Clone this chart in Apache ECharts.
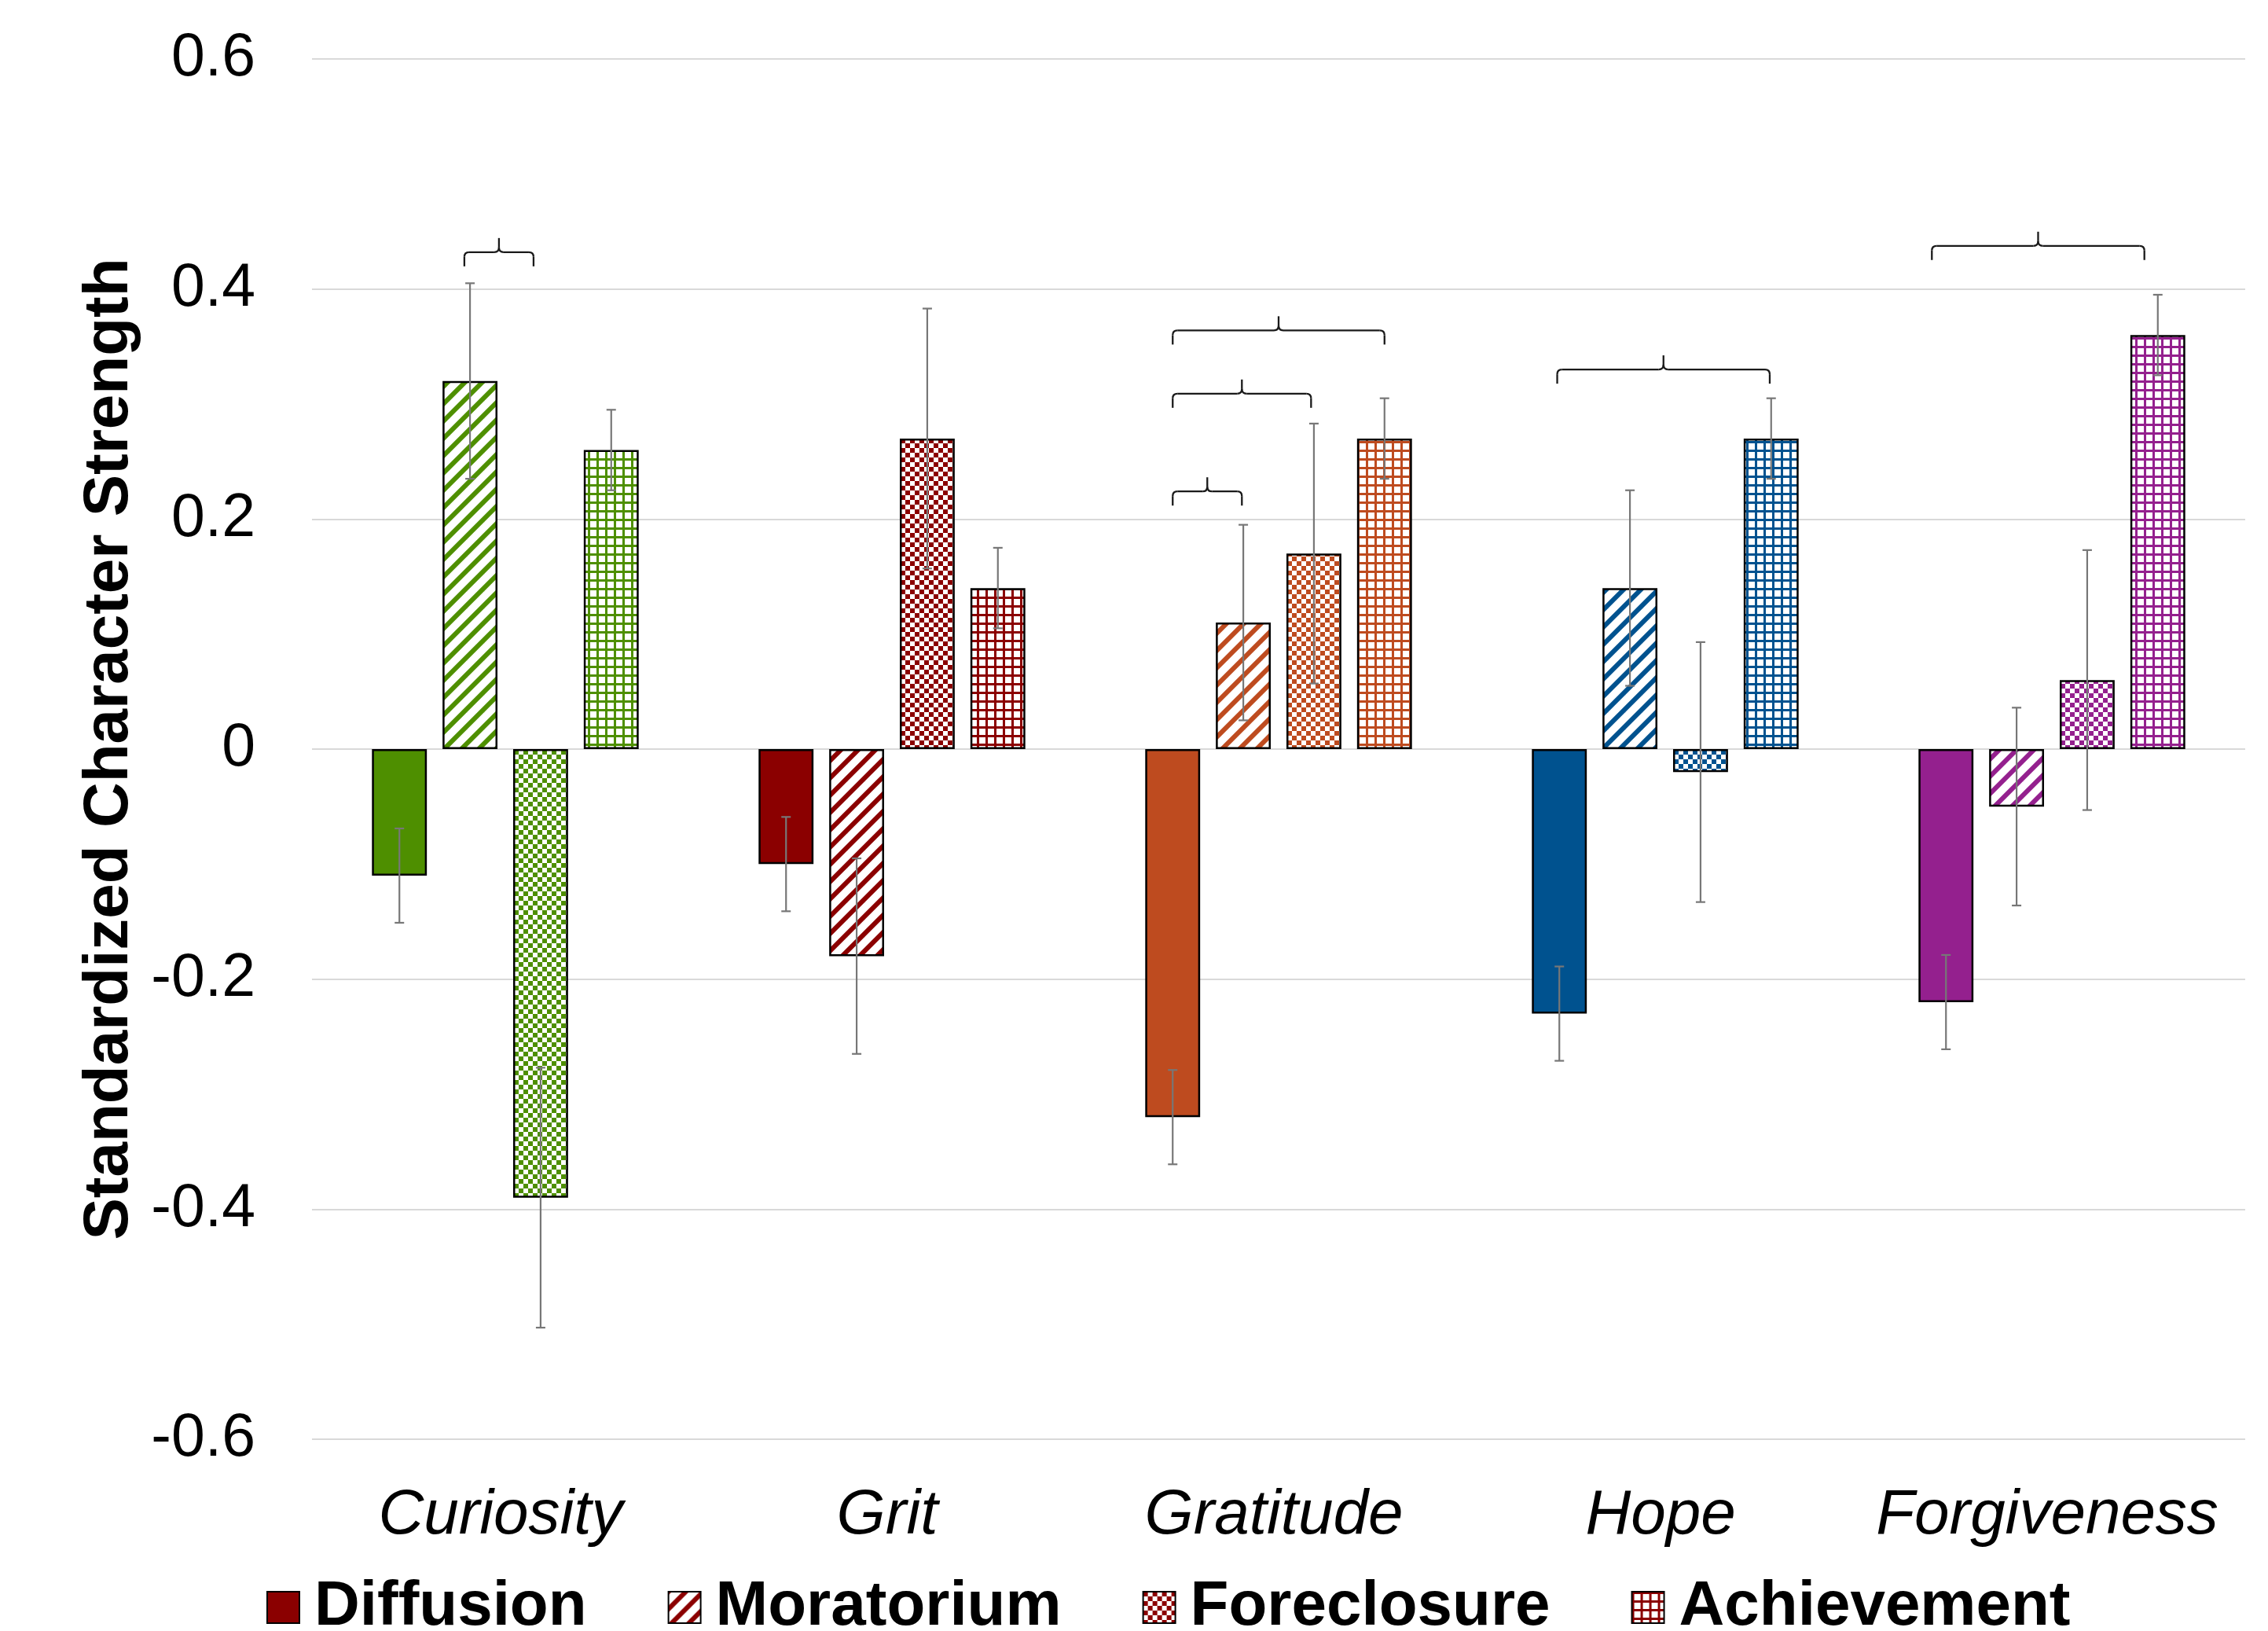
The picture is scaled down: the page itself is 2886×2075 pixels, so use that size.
<!DOCTYPE html>
<html>
<head>
<meta charset="utf-8">
<script src="https://cdn.jsdelivr.net/npm/echarts@6/dist/echarts.min.js"></script>
<style>
html,body{margin:0;padding:0;background:#fff;}
#chart{width:2886px;height:2075px;}
</style>
</head>
<body>
<div id="chart"></div>
<script>
// ---------- data ----------
const categories = ['Curiosity', 'Grit', 'Gratitude', 'Hope', 'Forgiveness'];
const seriesNames = ['Diffusion', 'Moratorium', 'Foreclosure', 'Achievement'];
const categoryColors = ['#4E8F00', '#8B0000', '#BE4B1F', '#00528F', '#94208E'];
const legendColor = '#8B0000';

const diffusion   = [-0.11, -0.10, -0.32, -0.23, -0.22];
const moratorium  = [0.32, -0.18, 0.11, 0.14, -0.05];
const foreclosure = [-0.39, 0.27, 0.17, -0.02, 0.06];
const achievement = [0.26, 0.14, 0.27, 0.27, 0.36];

const diffusionErr   = [0.041, 0.041, 0.041, 0.041, 0.041];
const moratoriumErr  = [0.085, 0.085, 0.085, 0.085, 0.086];
const foreclosureErr = [0.113, 0.113, 0.113, 0.113, 0.113];
const achievementErr = [0.035, 0.035, 0.035, 0.035, 0.035];

// significance braces: [category index, value height, from bar slot, to bar slot]
const braces = [
  [0, 0.432, 0.92, 1.90],
  [2, 0.364, 0.00, 3.00],
  [2, 0.309, 0.00, 1.96],
  [2, 0.224, 0.00, 0.98],
  [3, 0.330, -0.03, 2.98],
  [4, 0.4375, -0.20, 2.81]
];

const yTicks = [-0.6, -0.4, -0.2, 0, 0.2, 0.4, 0.6];
const yTickLabels = ['-0.6', '-0.4', '-0.2', '0', '0.2', '0.4', '0.6'];

// ---------- styling ----------
const FONT = "'Liberation Sans', Arial, sans-serif";
const BAR_W = 0.142;     // fraction of category band
const BAR_GAP = 0.286;   // fraction of bar width
const patternKinds = ['solid', 'stripe', 'checker', 'grid'];

function makePattern(kind, color) {
  if (kind === 'solid') return color;
  const c = document.createElement('canvas');
  let s;
  if (kind === 'stripe') s = 22;
  else if (kind === 'checker') s = 12;
  else s = 11;
  c.width = s; c.height = s;
  const g = c.getContext('2d');
  g.fillStyle = '#ffffff';
  g.fillRect(0, 0, s, s);
  g.fillStyle = color;
  g.strokeStyle = color;
  if (kind === 'stripe') {
    g.lineWidth = 6;
    g.lineCap = 'square';
    for (const o of [-s, 0, s]) {
      g.beginPath();
      g.moveTo(o - 3, s + 3);
      g.lineTo(o + s + 3, -3);
      g.stroke();
    }
  } else if (kind === 'checker') {
    g.fillRect(0, 0, 6, 6);
    g.fillRect(6, 6, 6, 6);
  } else {
    g.fillRect(0, 0, s, 3);
    g.fillRect(0, 0, 3, s);
  }
  return { image: c, repeat: 'repeat' };
}

const values = [diffusion, moratorium, foreclosure, achievement];
const errors = [diffusionErr, moratoriumErr, foreclosureErr, achievementErr];

const series = [];
seriesNames.forEach((name, si) => {
  series.push({
    name: name,
    type: 'bar',
    barWidth: (BAR_W * 100) + '%',
    barGap: (BAR_GAP * 100) + '%',
    itemStyle: {
      color: makePattern(patternKinds[si], legendColor),
      borderColor: '#000',
      borderWidth: 2.5
    },
    emphasis: { disabled: true },
    data: values[si].map((v, ci) => ({
      value: v,
      itemStyle: { color: makePattern(patternKinds[si], categoryColors[ci]) }
    })),
    z: 2
  });
});

// error bars
seriesNames.forEach((name, si) => {
  series.push({
    type: 'custom',
    name: name + ' error',
    z: 5,
    silent: true,
    data: categories.map((c, ci) => [ci, values[si][ci], errors[si][ci]]),
    encode: { x: 0, y: 1 },
    renderItem: function (params, api) {
      const ci = api.value(0), v = api.value(1), e = api.value(2);
      const band = api.size([1, 0])[0];
      const slot = band * BAR_W * (1 + BAR_GAP);
      const x = api.coord([ci, v])[0] + (si - 1.5) * slot;
      const yT = api.coord([ci, v + e])[1];
      const yB = api.coord([ci, v - e])[1];
      const cap = 6;
      const st = { stroke: '#777777', lineWidth: 2.2 };
      return {
        type: 'group',
        children: [
          { type: 'line', shape: { x1: x, y1: yT, x2: x, y2: yB }, style: st },
          { type: 'line', shape: { x1: x - cap, y1: yT, x2: x + cap, y2: yT }, style: st },
          { type: 'line', shape: { x1: x - cap, y1: yB, x2: x + cap, y2: yB }, style: st }
        ]
      };
    }
  });
});

// braces
series.push({
  type: 'custom',
  name: 'braces',
  z: 6,
  silent: true,
  data: braces,
  encode: { x: 0, y: 1 },
  renderItem: function (params, api) {
    const ci = api.value(0), yv = api.value(1), s0 = api.value(2), s1 = api.value(3);
    const band = api.size([1, 0])[0];
    const slot = band * BAR_W * (1 + BAR_GAP);
    const cx = api.coord([ci, yv])[0];
    const hy = api.coord([ci, yv])[1];
    const L = cx + (s0 - 1.5) * slot;
    const R = cx + (s1 - 1.5) * slot;
    const M = (L + R) / 2;
    const d = 18, r = 6;
    const st = { stroke: '#1a1a1a', lineWidth: 2.3, fill: null };
    const kids = [
      { type: 'line', shape: { x1: L, y1: hy + d, x2: L, y2: hy + r }, style: st },
      { type: 'bezierCurve', shape: { x1: L, y1: hy + r, x2: L + r, y2: hy, cpx1: L, cpy1: hy }, style: st },
      { type: 'line', shape: { x1: L + r, y1: hy, x2: M - r, y2: hy }, style: st },
      { type: 'bezierCurve', shape: { x1: M - r, y1: hy, x2: M, y2: hy - r, cpx1: M, cpy1: hy }, style: st },
      { type: 'line', shape: { x1: M, y1: hy - r, x2: M, y2: hy - d }, style: st },
      { type: 'bezierCurve', shape: { x1: M, y1: hy - r, x2: M + r, y2: hy, cpx1: M, cpy1: hy }, style: st },
      { type: 'line', shape: { x1: M + r, y1: hy, x2: R - r, y2: hy }, style: st },
      { type: 'bezierCurve', shape: { x1: R - r, y1: hy, x2: R, y2: hy + r, cpx1: R, cpy1: hy }, style: st },
      { type: 'line', shape: { x1: R, y1: hy + r, x2: R, y2: hy + d }, style: st }
    ];
    return { type: 'group', children: kids };
  }
});

const chart = echarts.init(document.getElementById('chart'), null, { renderer: 'canvas' });
chart.setOption({
  animation: false,
  backgroundColor: '#ffffff',
  grid: { left: 397, right: 29, top: 75, bottom: 244, containLabel: false },
  legend: {
    data: seriesNames,
    left: 339,
    top: 2005,
    padding: 0,
    itemWidth: 41,
    itemHeight: 40,
    itemGap: 103,
    selectedMode: false,
    icon: 'rect',
    textStyle: {
      fontFamily: FONT,
      fontSize: 80,
      fontWeight: 'bold',
      color: '#000',
      padding: [0, 0, 0, 14]
    }
  },
  xAxis: {
    type: 'category',
    data: categories,
    axisLine: { show: false },
    axisTick: { show: false },
    axisLabel: {
      interval: 0,
      fontFamily: FONT,
      fontSize: 80,
      fontStyle: 'italic',
      color: '#000',
      margin: 58,
      padding: [0, 12, 0, 0]
    },
    splitLine: { show: false }
  },
  yAxis: {
    type: 'value',
    min: -0.6,
    max: 0.6,
    interval: 0.2,
    name: 'Standardized Character Strength',
    nameLocation: 'middle',
    nameRotate: 90,
    nameGap: 217,
    nameTextStyle: {
      fontFamily: FONT,
      fontSize: 80,
      fontWeight: 'bold',
      color: '#000'
    },
    axisLine: { show: false },
    axisTick: { show: false },
    axisLabel: {
      fontFamily: FONT,
      fontSize: 77,
      color: '#000',
      margin: 72,
      formatter: function (v) {
        let best = 0;
        yTicks.forEach((t, i) => { if (Math.abs(t - v) < Math.abs(yTicks[best] - v)) best = i; });
        return yTickLabels[best];
      }
    },
    splitLine: { lineStyle: { color: '#d9d9d9', width: 2 } }
  },
  series: series
});
</script>
</body>
</html>
